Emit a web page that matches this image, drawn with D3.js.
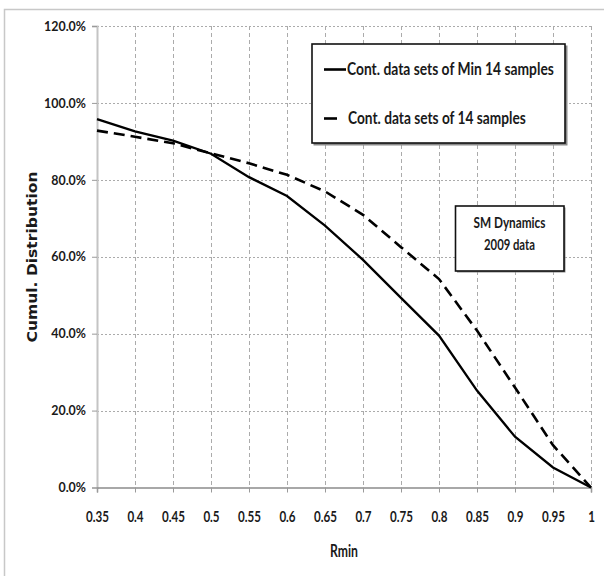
<!DOCTYPE html>
<html>
<head>
<meta charset="utf-8">
<script src="https://cdn.jsdelivr.net/npm/d3@7"></script>
<style>
  html, body { margin: 0; padding: 0; background: #fff; }
  svg { display: block; }
  text { font-family: Lato, "Open Sans", sans-serif; font-weight: bold; fill: #1a1a1a; }
</style>
</head>
<body>
<svg id="chart" width="604" height="576"></svg>
<script>
// Rmin values on the x axis
const rmin = [0.35, 0.4, 0.45, 0.5, 0.55, 0.6, 0.65, 0.7, 0.75, 0.8, 0.85, 0.9, 0.95, 1.0];
const rminLabels = ["0.35", "0.4", "0.45", "0.5", "0.55", "0.6", "0.65", "0.7", "0.75", "0.8", "0.85", "0.9", "0.95", "1"];

// Cumulative distribution (%) per series
const minSamples = [95.8, 92.6, 90.2, 86.8, 80.7, 75.8, 68.1, 59.2, 49.3, 39.5, 25.2, 13.2, 5.2, 0];
const fixedSamples = [92.8, 91.2, 89.5, 86.9, 84.3, 81.3, 77.0, 70.9, 62.5, 54.2, 40.8, 26.0, 11.0, 0];

// Y axis ticks (%)
const yTicks = [0, 20, 40, 60, 80, 100, 120];

const seriesNames = ["Cont. data sets of Min 14 samples", "Cont. data sets of 14 samples"];
const noteLines = ["SM Dynamics", "2009 data"];

const svg = d3.select("#chart");

const x = d3.scaleLinear().domain([0.35, 1.0]).range([97, 591]);
const y = d3.scaleLinear().domain([0, 120]).range([487.5, 26]);

// squeeze a text horizontally (about its anchor x) by a given factor
function squeeze(sel, factor) {
  sel.each(function () {
    const t = d3.select(this);
    const ax = +t.attr("x") || 0;
    t.attr("transform", `translate(${ax},0) scale(${factor},1) translate(${-ax},0)`);
  });
}
// squeeze a single text so that it spans the given width
function fitWidth(sel, width) {
  const w = sel.node().getComputedTextLength();
  squeeze(sel, width / w);
}

// outer chart frame (continues past the right and bottom edges)
svg.append("rect")
  .attr("x", 4.5).attr("y", 9.5).attr("width", 640).attr("height", 620)
  .attr("fill", "none").attr("stroke", "#c8c8c8").attr("stroke-width", 1.5);

// gridlines
const grid = svg.append("g");
grid.selectAll("line.h").data(yTicks.filter(d => d > 0)).join("line")
  .attr("x1", x(0.35)).attr("x2", x(1.0))
  .attr("y1", d => Math.round(y(d)) + 0.5).attr("y2", d => Math.round(y(d)) + 0.5)
  .attr("stroke", "#ababab").attr("stroke-width", 1).attr("stroke-dasharray", "2,2");
grid.selectAll("line.v").data(rmin.slice(1)).join("line")
  .attr("x1", d => Math.round(x(d)) + 0.5).attr("x2", d => Math.round(x(d)) + 0.5)
  .attr("y1", y(120)).attr("y2", y(0))
  .attr("stroke", "#ababab").attr("stroke-width", 1).attr("stroke-dasharray", "4,3");

// y axis
const yAxis = d3.axisLeft(y).tickValues(yTicks).tickSize(5).tickPadding(6)
  .tickFormat(d => d.toFixed(1) + "%");
const gy = svg.append("g").attr("transform", `translate(${x(0.35)},0)`).call(yAxis);
gy.attr("font-family", null);
gy.select(".domain").attr("stroke", "#c4c4c4").attr("stroke-width", 2);
gy.selectAll(".tick line").attr("stroke", "#9a9a9a");
const yLabels = gy.selectAll(".tick text").attr("font-size", 13).attr("fill", "#1a1a1a").attr("x", -11);
squeeze(yLabels, 42 / gy.select(".tick:last-of-type text").node().getComputedTextLength());

// x axis
const xAxis = d3.axisBottom(x).tickValues(rmin).tickSize(5).tickPadding(0)
  .tickFormat((d, i) => rminLabels[i]);
const gx = svg.append("g").attr("transform", `translate(0,${y(0)})`).call(xAxis);
gx.attr("font-family", null);
gx.select(".domain").attr("stroke", "#8c8c8c").attr("stroke-width", 1.5);
gx.selectAll(".tick line").attr("stroke", "#9a9a9a");
const xLabels = gx.selectAll(".tick text").attr("font-size", 15).attr("fill", "#1a1a1a")
  .attr("y", 35).attr("dy", null);
squeeze(xLabels, 23 / gx.select(".tick text").node().getComputedTextLength());

// axis titles
const xTitle = svg.append("text").attr("x", 344).attr("y", 557.5).attr("text-anchor", "middle")
  .attr("font-size", 17).text("Rmin");
fitWidth(xTitle, 28);
svg.append("text")
  .attr("transform", "translate(37,257) rotate(-90)")
  .attr("text-anchor", "middle")
  .style("font-family", "'DejaVu Sans', sans-serif")
  .attr("font-size", 14)
  .attr("textLength", 171).attr("lengthAdjust", "spacingAndGlyphs")
  .text("Cumul. Distribution");

// series lines
const line = d3.line().x((d, i) => x(rmin[i])).y(d => y(d));
svg.append("path").datum(fixedSamples).attr("d", line)
  .attr("fill", "none").attr("stroke", "#000").attr("stroke-width", 2.6)
  .attr("stroke-dasharray", "11,6");
svg.append("path").datum(minSamples).attr("d", line)
  .attr("fill", "none").attr("stroke", "#000").attr("stroke-width", 2.3);

// legend box
const lg = svg.append("g");
lg.append("rect").attr("x", 313.5).attr("y", 45.5).attr("width", 254).attr("height", 100)
  .attr("fill", "#8a8a8a");
lg.append("rect").attr("x", 312).attr("y", 44).attr("width", 253).attr("height", 99)
  .attr("fill", "#fff").attr("stroke", "#111").attr("stroke-width", 1.6);
lg.append("line").attr("x1", 324).attr("x2", 346).attr("y1", 69.5).attr("y2", 69.5)
  .attr("stroke", "#000").attr("stroke-width", 2.6);
lg.append("line").attr("x1", 324).attr("x2", 337).attr("y1", 118.5).attr("y2", 118.5)
  .attr("stroke", "#000").attr("stroke-width", 2.6);
const lt1 = lg.append("text").attr("x", 347).attr("y", 75.5).attr("font-size", 17).text(seriesNames[0]);
fitWidth(lt1, 207);
const lt2 = lg.append("text").attr("x", 348).attr("y", 124.5).attr("font-size", 17).text(seriesNames[1]);
fitWidth(lt2, 178);

// annotation box
const nb = svg.append("g");
nb.append("rect").attr("x", 457).attr("y", 207.5).attr("width", 108.5).attr("height", 65)
  .attr("fill", "#8a8a8a");
nb.append("rect").attr("x", 455.5).attr("y", 206).attr("width", 108.5).attr("height", 65)
  .attr("fill", "#fff").attr("stroke", "#111").attr("stroke-width", 1.6);
const n1 = nb.append("text").attr("x", 509.5).attr("y", 228.5).attr("text-anchor", "middle")
  .attr("font-size", 15.5).text(noteLines[0]);
fitWidth(n1, 72);
const n2 = nb.append("text").attr("x", 509.5).attr("y", 250.5).attr("text-anchor", "middle")
  .attr("font-size", 15.5).text(noteLines[1]);
fitWidth(n2, 51);
</script>
</body>
</html>
